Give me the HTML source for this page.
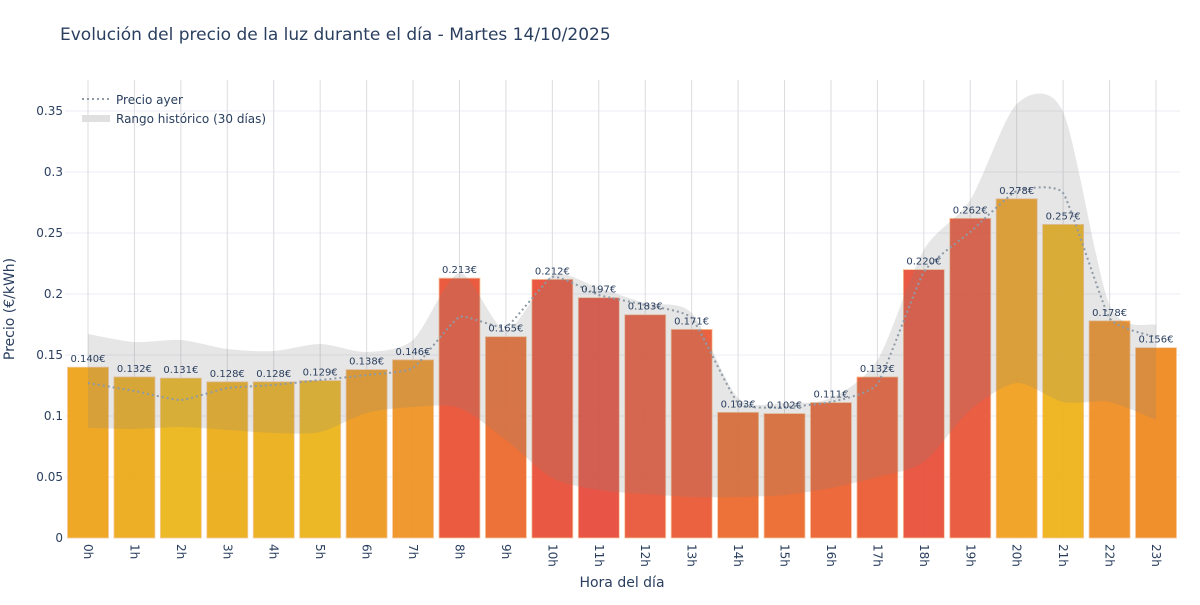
<!DOCTYPE html>
<html><head><meta charset="utf-8"><style>
body{margin:0;background:#fff;width:1200px;height:600px;overflow:hidden}
svg text{font-family:"DejaVu Sans","Liberation Sans",sans-serif;fill:#2a3f5f}
</style></head><body>
<svg id="s" width="1200" height="600" xmlns="http://www.w3.org/2000/svg">
<text x="60" y="40" font-size="17">Evolución del precio de la luz durante el día - Martes 14/10/2025</text>
<g id="grid"></g>
<g id="bars"></g>
<g id="band"></g>
<g id="line"></g>
<g id="labels"></g>
<text transform="translate(14,309) rotate(-90)" text-anchor="middle" font-size="14">Precio (€/kWh)</text>
<text x="622" y="587" text-anchor="middle" font-size="14">Hora del día</text>
<line x1="82" y1="99" x2="110" y2="99" stroke="#8e9aa6" stroke-width="2" stroke-dasharray="2,3"/>
<text x="116" y="104" font-size="12">Precio ayer</text>
<rect x="82" y="115" width="28" height="7" fill="#e0e0e0"/>
<text x="116" y="123" font-size="12">Rango histórico (30 días)</text>
</svg>
<script>
const NS="http://www.w3.org/2000/svg";
function el(p,t,a,txt){const e=document.createElementNS(NS,t);for(const k in a)e.setAttribute(k,a[k]);if(txt!==undefined)e.textContent=txt;document.getElementById(p).appendChild(e);return e;}
const Y=v=>538-v*1220;
const X=i=>88+i*46.435;
for(let k=0;k<=7;k++){const v=k*0.05,y=Y(v);
 if(k>0)el("grid","line",{x1:65,x2:1180,y1:y,y2:y,stroke:"#ebedf3","stroke-width":1});
 el("grid","text",{x:63,y:y+4,"text-anchor":"end","font-size":12},k==0?"0":(+v.toFixed(2)).toString());}
for(let i=0;i<24;i++){el("grid","line",{x1:X(i),x2:X(i),y1:80,y2:538,stroke:"#dcdce0","stroke-width":1});
 el("grid","text",{transform:`translate(${X(i)-4},544) rotate(90)`,"font-size":12},i+"h");}
const vals=[.140,.132,.131,.128,.128,.129,.138,.146,.213,.165,.212,.197,.183,.171,.103,.102,.111,.132,.220,.262,.278,.257,.178,.156];
const cols=["#eda31a","#ecab1a","#ebb61a","#ecad1a","#ecaf1a","#ebb41a","#ed9a20","#ee9325","#e95236","#eb6a2e","#e84f38","#e74c3c","#e9573a","#e95a36","#ec6a2e","#ec6a2e","#eb6232","#ea5c33","#e8503a","#e9553a","#f0a01f","#eeb31a","#ee8e24","#ef8a22"];
vals.forEach((v,i)=>{const x=X(i)-20.5,y=Y(v);
 el("bars","rect",{x:x,y:y,width:41,height:538-y,fill:cols[i],"fill-opacity":0.95,stroke:"#f6c9a0","stroke-width":0.8});
 el("labels","text",{x:X(i),y:y-5,"text-anchor":"middle","font-size":10},v.toFixed(3)+"€");});
const up=[334,342,340,349,351,344,352,340,273,330,275,288,303,313,398,403,398,360,250,200,104,112,305,325];
const lo=[428,429,427,430,433,432,413,407,408,440,478,490,494,497,497,495,488,477,462,410,383,402,402,420];
const ay=[383,391,400,388,385,380,375,368,317,327,277,295,305,318,403,407,402,384,272,232,191,193,318,337];
function spline(ys,rev,f){let p=ys.map((y,i)=>[X(i),y]);if(rev)p=p.reverse();let d="";
 for(let i=0;i<p.length-1;i++){const p0=p[i-1]||p[i],p1=p[i],p2=p[i+1],p3=p[i+2]||p2;
  const c1=[p1[0]+(p2[0]-p0[0])*f/6,p1[1]+(p2[1]-p0[1])*f/6],c2=[p2[0]-(p3[0]-p1[0])*f/6,p2[1]-(p3[1]-p1[1])*f/6];
  d+=` C${c1[0].toFixed(1)},${c1[1].toFixed(1)} ${c2[0].toFixed(1)},${c2[1].toFixed(1)} ${p2[0].toFixed(1)},${p2[1].toFixed(1)}`;}
 return {start:p[0],d};}
const a=spline(up,false,0.8),b=spline(lo,true,0.8);
el("band","path",{d:`M${a.start[0]},${a.start[1]}${a.d} L${b.start[0]},${b.start[1]}${b.d} Z`,fill:"rgba(128,128,128,0.2)"});
const c=spline(ay,false,0.45);
el("line","path",{d:`M${c.start[0]},${c.start[1]}${c.d}`,fill:"none",stroke:"#8e9aa6","stroke-width":2,"stroke-dasharray":"2,3"});
</script>
</body></html>
